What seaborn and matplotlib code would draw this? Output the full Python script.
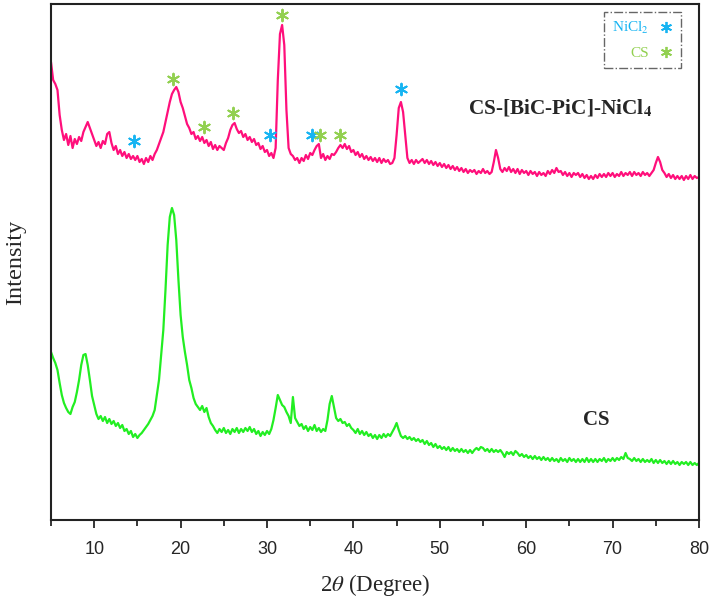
import matplotlib
matplotlib.use("Agg")
import matplotlib.pyplot as plt
import numpy as np
import pandas as pd
import seaborn as sns
from matplotlib.lines import Line2D
from matplotlib.ticker import MultipleLocator

# 2theta grid of the digitised patterns (deg), 0.25 deg step
two_theta = np.arange(5, 80.001, 0.25)

# CS-[BiC-PiC]-NiCl4 (offset trace, a.u.)
composite = [
    458, 440, 436, 430, 405, 390, 380, 386, 375, 384, 372, 381, 376, 383, 379, 388,
    393, 398, 392, 386, 380, 374, 378, 372, 379, 376, 386, 388, 377, 370, 374, 366,
    370, 364, 368, 362, 366, 361, 364, 360, 364, 358, 361, 356, 362, 358, 364, 360,
    366, 370, 376, 382, 388, 398, 408, 418, 426, 430, 433, 428, 418, 412, 404, 396,
    392, 386, 388, 381, 384, 379, 383, 377, 380, 374, 378, 371, 375, 370, 374, 372,
    370, 377, 382, 390, 395, 397, 391, 387, 389, 383, 386, 380, 383, 378, 381, 375,
    377, 371, 374, 368, 370, 364, 367, 362, 372, 440, 486, 495, 475, 410, 372, 366,
    364, 360, 362, 357, 362, 359, 365, 361, 367, 365, 370, 374, 376, 362, 366, 360,
    364, 361, 366, 365, 368, 372, 375, 372, 376, 371, 374, 368, 370, 365, 368, 363,
    366, 361, 364, 360, 363, 359, 362, 358, 362, 357, 361, 358, 360, 356, 357, 362,
    385, 412, 418, 408, 385, 362, 357, 360, 356, 360, 357, 359, 361, 357, 360, 356,
    359, 355, 358, 354, 357, 353, 356, 352, 355, 351, 354, 350, 353, 349, 352, 348,
    351, 347, 350, 348, 350, 346, 349, 347, 351, 347, 349, 346, 348, 358, 370, 362,
    351, 348, 352, 349, 353, 348, 351, 347, 351, 346, 350, 347, 349, 345, 349, 346,
    348, 344, 348, 345, 347, 344, 349, 346, 350, 347, 352, 348, 349, 345, 348, 344,
    347, 343, 347, 345, 347, 343, 346, 342, 345, 341, 344, 341, 345, 342, 346, 343,
    346, 343, 347, 344, 347, 343, 346, 344, 348, 344, 347, 345, 348, 344, 348, 345,
    347, 344, 348, 345, 347, 344, 347, 350, 357, 363, 358, 350, 347, 343, 346, 342,
    345, 341, 344, 341, 344, 340, 344, 341, 345, 341, 344, 342, 343,
]

# pure chitosan (a.u.)
chitosan = [
    168, 162, 157, 150, 137, 125, 117, 112, 108, 106, 113, 118, 128, 140, 155, 165,
    166, 155, 140, 124, 115, 106, 101, 104, 99, 103, 97, 101, 96, 99, 94, 97,
    92, 95, 89, 91, 86, 89, 83, 86, 82, 85, 87, 90, 93, 96, 100, 104,
    110, 125, 140, 165, 190, 230, 275, 303, 312, 305, 280, 240, 205, 183, 168, 155,
    140, 132, 122, 116, 113, 110, 114, 108, 112, 103, 97, 94, 90, 87, 91, 88,
    92, 87, 90, 86, 91, 88, 92, 87, 91, 88, 92, 89, 93, 88, 91, 86,
    89, 84, 88, 85, 89, 86, 91, 100, 112, 125, 120, 115, 113, 108, 104, 97,
    123, 102, 98, 94, 96, 91, 94, 89, 93, 90, 95, 89, 92, 88, 91, 89,
    100, 116, 124, 113, 102, 99, 101, 97, 98, 94, 96, 92, 90, 87, 91, 86,
    89, 85, 88, 84, 86, 82, 85, 81, 85, 82, 86, 83, 86, 84, 88, 92,
    97, 90, 84, 82, 84, 81, 83, 80, 82, 79, 81, 78, 80, 76, 79, 75,
    77, 73, 76, 72, 74, 71, 73, 70, 73, 69, 72, 69, 71, 68, 71, 68,
    70, 67, 70, 67, 70, 72, 70, 73, 72, 69, 71, 68, 71, 68, 70, 68,
    70, 67, 63, 68, 66, 68, 65, 69, 67, 64, 66, 63, 65, 62, 64, 61,
    64, 61, 63, 60, 63, 60, 62, 59, 62, 59, 61, 58, 62, 59, 61, 58,
    62, 59, 61, 58, 61, 58, 61, 58, 62, 58, 61, 58, 61, 58, 61, 59,
    62, 58, 61, 59, 62, 59, 62, 60, 63, 61, 67, 62, 61, 59, 62, 59,
    61, 58, 61, 58, 60, 58, 61, 57, 60, 57, 60, 57, 59, 56, 59, 56,
    59, 56, 58, 55, 58, 56, 58, 55, 58, 55, 57, 55, 57,
]

# reflection markers on the composite trace
nicl2_pos = [14.6, 30.3, 35.2, 45.5]
nicl2_h = [379, 385, 385, 431]
cs_pos = [19.1, 22.7, 26.1, 31.7, 36.1, 38.4]
cs_h = [441, 393, 407, 505, 385, 385]

PINK = "#ff0f7b"
LIME = "#22ee22"
BLUE = "#16b4f2"
GREEN = "#92d050"
STAR = (6, 2, 0)

sns.set_style("white")
plt.rcParams["font.family"] = ["Liberation Serif", "DejaVu Serif"]
plt.rcParams["mathtext.fontset"] = "stix"

fig = plt.figure(figsize=(7.13, 6.01), dpi=100)
ax = fig.add_axes([51 / 713, 1 - 520 / 601, 648 / 713, 516 / 601])

df = pd.DataFrame({"2theta": two_theta, "comp": composite, "cs": chitosan})
sns.lineplot(data=df, x="2theta", y="comp", color=PINK, lw=1.6, ax=ax,
             estimator=None, sort=False)
sns.lineplot(data=df, x="2theta", y="cs", color=LIME, lw=1.6, ax=ax,
             estimator=None, sort=False)

sns.scatterplot(x=nicl2_pos, y=nicl2_h, marker=STAR, s=70, color=BLUE,
                linewidth=1.4, ax=ax, zorder=4)
sns.scatterplot(x=cs_pos, y=cs_h, marker=STAR, s=70, color=GREEN,
                linewidth=1.4, ax=ax, zorder=4)

ax.set_xlim(5, 80)
ax.set_ylim(0, 516)
ax.set_yticks([])
ax.xaxis.set_major_locator(MultipleLocator(10))
ax.xaxis.set_minor_locator(MultipleLocator(5))
ax.tick_params(axis="x", which="major", direction="out", length=6, width=1.3,
               bottom=True, labelsize=13, pad=9)
ax.tick_params(axis="x", which="minor", direction="out", length=4, width=1.3,
               bottom=True)
for lab in ax.get_xticklabels():
    lab.set_family("Liberation Sans")
for sp in ax.spines.values():
    sp.set_color("#222222")
    sp.set_linewidth(1.5)

ax.set_xlabel(r"2$\it{\theta}$ (Degree)", fontsize=16.5, labelpad=10)
ax.set_ylabel("Intensity", fontsize=17.5, labelpad=18)

ax.annotate(r"CS-[BiC-PiC]-NiCl$_\mathbf{4}$", xy=(0.785, 0.797),
            xycoords="axes fraction", ha="center", va="center",
            fontsize=15.3, fontweight="bold")
ax.annotate("CS", xy=(0.841, 0.193), xycoords="axes fraction",
            ha="center", va="center", fontsize=15, fontweight="bold")

handles = [
    Line2D([], [], ls="none", marker=STAR, ms=8, mew=1.3, color=BLUE),
    Line2D([], [], ls="none", marker=STAR, ms=8, mew=1.3, color=GREEN),
]
leg = ax.legend(handles, [r"NiCl$_2$", "CS"], loc="upper right",
                bbox_to_anchor=(0.972, 0.984), borderaxespad=0,
                markerfirst=False, labelcolor=[BLUE, GREEN], fontsize=11,
                handlelength=1.0, handletextpad=0.6, borderpad=0.5,
                labelspacing=0.7, fancybox=False, framealpha=1)
leg.get_frame().set_linestyle("-.")
leg.get_frame().set_edgecolor("#666666")
leg.get_frame().set_linewidth(1.0)

fig.savefig("out.png", dpi=100, facecolor="white")
